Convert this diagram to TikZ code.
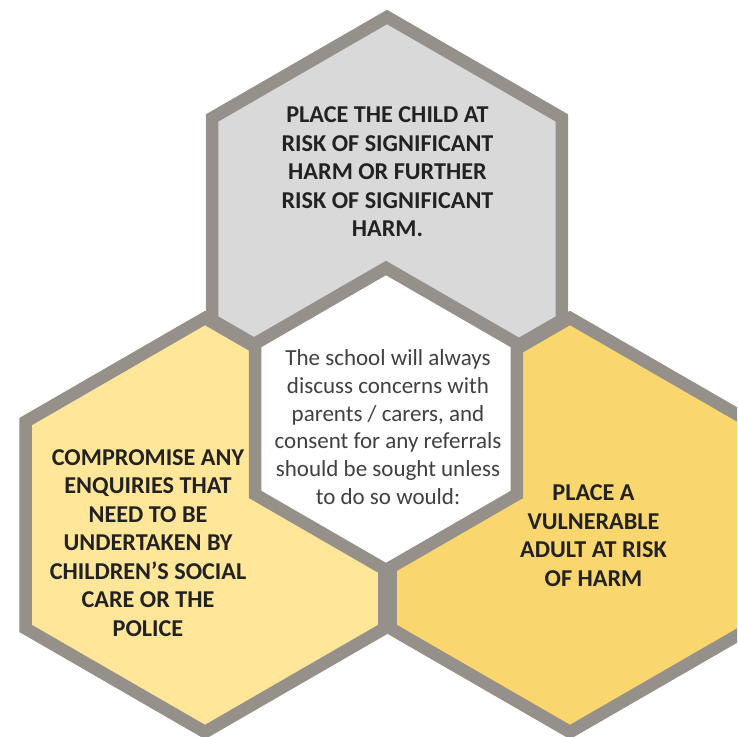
\documentclass[tikz,border=0pt]{standalone}
\usepackage{fontspec}
\setmainfont{Carlito}
\usetikzlibrary{shapes.geometric}
\definecolor{hexline}{RGB}{150,144,138}
\definecolor{hexgrey}{RGB}{217,217,217}
\definecolor{hexpale}{RGB}{255,230,153}
\definecolor{hexgold}{RGB}{250,215,110}
\definecolor{inktext}{RGB}{34,34,34}
\definecolor{softtext}{RGB}{64,64,64}
\tikzset{
        x=0.5pt, y=-0.5pt,
        hex/.style={regular polygon, regular polygon sides=6, shape border rotate=30, draw=hexline, line width=6.25pt, inner sep=0pt},
        topcell/.style={hex, minimum size=202pt, fill=hexgrey},
        leftcell/.style={hex, minimum size=207pt, fill=hexpale},
        rightcell/.style={hex, minimum size=207pt, fill=hexgold},
        midcell/.style={hex, minimum size=151pt, fill=white},
        shout/.style={text=inktext, font=\bfseries\fontsize{12.1}{14.25}\selectfont, align=center},
        calm/.style={text=softtext, font=\fontsize{11.5}{13.85}\selectfont, align=center}
          }

\begin{document}
\begin{tikzpicture}
      \clip (0,0) rectangle (737,737);
      \fill[white] (0,0) rectangle (737,737);
      \node[topcell] (harm) at (387,219) {};
      \node[leftcell] (enquiries) at (205,525) {};
      \node[rightcell] (adult) at (570,525) {};
      \node[midcell] (school) at (386,419) {};
      \node[shout] (harmtext) at (387.5,172) {PLACE THE CHILD AT\\RISK OF SIGNIFICANT\\HARM OR FURTHER\\RISK OF SIGNIFICANT\\HARM.};
      \node[shout] (enquiriestext) at (148,543) {COMPROMISE ANY\\ENQUIRIES THAT\\NEED TO BE\\UNDERTAKEN BY\\CHILDREN’S SOCIAL\\CARE OR THE\\POLICE};
      \node[shout] (adulttext) at (593.5,535.5) {PLACE A\\VULNERABLE\\ADULT AT RISK\\OF HARM};
      \node[calm] (schooltext) at (388,427) {The school will always\\discuss concerns with\\parents / carers, and\\consent for any referrals\\should be sought unless\\to do so would:};
    \end{tikzpicture}
\end{document}
